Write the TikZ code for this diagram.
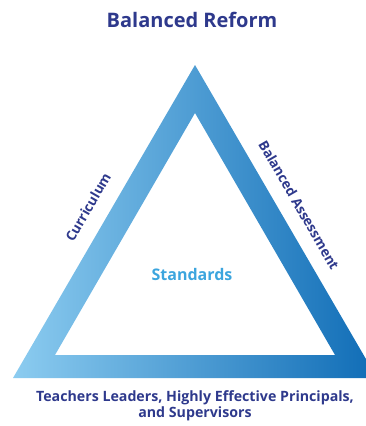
\documentclass[tikz,border=0pt]{standalone}
\usepackage{fontspec}
\setmainfont{Open Sans}
\definecolor{navy}{RGB}{46,57,140}
\definecolor{lightb}{RGB}{140,204,240}
\definecolor{darkb}{RGB}{15,108,182}
\definecolor{stdblue}{RGB}{60,165,222}
\begin{document}
\begin{tikzpicture}[x=1pt,y=-1pt,
  lbl/.style={font=\bfseries\fontsize{13.6}{16}\selectfont, text=navy, inner sep=0pt}]
\useasboundingbox (0,0) rectangle (366,426);
\coordinate (oa) at (195,65);
\coordinate (or) at (377,378);
\coordinate (ol) at (13,378);
\coordinate (ia) at (195,113);
\coordinate (ir) at (335,355);
\coordinate (il) at (55,355);
\begin{scope}
\clip (0,0) rectangle (366,426);
\shade[left color=lightb, right color=darkb, even odd rule]
  (oa) -- (or) -- (ol) -- cycle (ia) -- (ir) -- (il) -- cycle;
\end{scope}
\node[font=\bfseries\fontsize{20}{24}\selectfont, text=navy] (title) at (192,20) {Balanced Reform};
\node[lbl, rotate=60] (cur) at (88,207) {Curriculum};
\node[lbl, rotate=-60] (ass) at (299,205) {Balanced Assessment};
\node[lbl, text=stdblue, font=\bfseries\fontsize{16}{19}\selectfont] (std) at (192,274) {Standards};
\node[lbl, align=center, font=\bfseries\fontsize{14.2}{16.5}\selectfont] (bot) at (195,406) {Teachers Leaders, Highly Effective Principals,\\and Supervisors};
\end{tikzpicture}
\end{document}
